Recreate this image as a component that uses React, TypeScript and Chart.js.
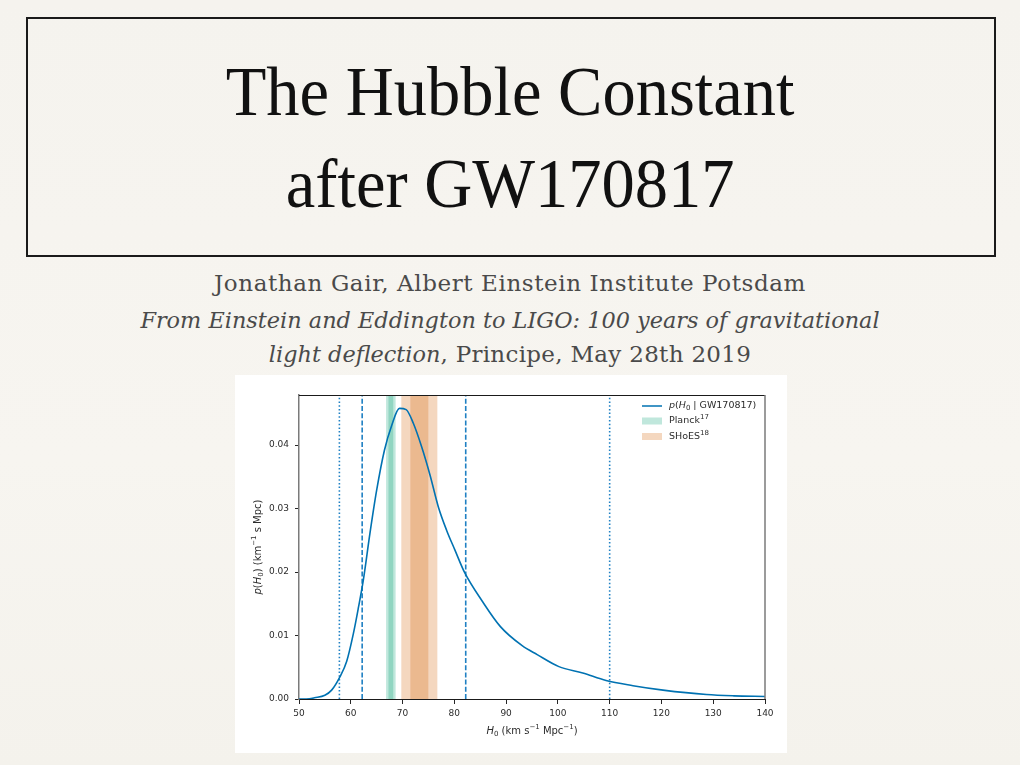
import React, { useEffect, useRef } from "react";
import { Chart, registerables } from "chart.js";

Chart.register(...registerables);

// ---- data ----
const h0Grid = [
  50, 52, 53, 55, 56.3, 57.9, 59.2, 60.5, 61.5, 62.4, 63.7, 65, 66.5, 67.9, 69.4, 70.7, 72.1, 73.7, 75.3,
  76.9, 78.5, 80.1, 82, 85.4, 88.9, 93.1, 96, 100.2, 104.8, 109.3, 114.5, 120.3, 128.7, 134, 140,
];
const posterior = [
  0, 0.00005, 0.0002, 0.0006, 0.0014, 0.0035, 0.0059, 0.0103, 0.0145, 0.0186, 0.0261, 0.0329, 0.0392, 0.0431,
  0.0458, 0.0456, 0.0434, 0.0397, 0.0353, 0.0303, 0.0266, 0.0235, 0.0199, 0.0154, 0.0114, 0.0084, 0.007,
  0.0051, 0.0041, 0.0029, 0.0021, 0.0014, 0.0007, 0.0005, 0.0004,
];
const xTickValues = [50, 60, 70, 80, 90, 100, 110, 120, 130, 140];
const yTickValues = [0, 0.01, 0.02, 0.03, 0.04];
const yAxisMax = 0.0479;
const interval90 = [57.8, 110.0]; // dotted lines
const interval68 = [62.2, 82.2]; // dashed lines
const planckBand = [67.74, 0.46]; // centre, sigma
const shoesBand = [73.24, 1.74]; // centre, sigma

const FAMILY = '"DejaVu Sans", sans-serif';
const LINE_BLUE = "#0072b2";
const VLINE_BLUE = "#1f80c3";
const TEXT_DARK = "#2b2b2b";

type Seg = { t: string; it?: boolean; sub?: boolean; sup?: boolean };

function drawRich(
  ctx: CanvasRenderingContext2D,
  segs: Seg[],
  x: number,
  y: number,
  size: number,
  align: "left" | "center"
) {
  const fontFor = (s: Seg) =>
    `${s.it ? "italic " : ""}${s.sub || s.sup ? Math.round(size * 0.72) : size}px ${FAMILY}`;
  let total = 0;
  for (const s of segs) {
    ctx.font = fontFor(s);
    total += ctx.measureText(s.t).width;
  }
  let cx = align === "center" ? x - total / 2 : x;
  ctx.textBaseline = "middle";
  ctx.textAlign = "left";
  for (const s of segs) {
    ctx.font = fontFor(s);
    const dy = s.sub ? size * 0.28 : s.sup ? -size * 0.38 : 0;
    ctx.fillText(s.t, cx, y + dy);
    cx += ctx.measureText(s.t).width;
  }
}

const bandsPlugin = {
  id: "bands",
  beforeDatasetsDraw(chart: any) {
    const { ctx, chartArea, scales } = chart;
    const xs = scales.x;
    const bands: [number[], string][] = [
      [planckBand, "rgba(2,158,115,0.25)"],
      [shoesBand, "rgba(213,94,0,0.25)"],
    ];
    ctx.save();
    for (const [band, color] of bands) {
      for (const k of [2, 1]) {
        const x1 = xs.getPixelForValue(band[0] - k * band[1]);
        const x2 = xs.getPixelForValue(band[0] + k * band[1]);
        ctx.fillStyle = color;
        ctx.fillRect(x1, chartArea.top, x2 - x1, chartArea.bottom - chartArea.top);
      }
    }
    ctx.restore();
  },
};

const framePlugin = {
  id: "frame",
  afterDraw(chart: any) {
    const { ctx, chartArea } = chart;
    const { left, right, top, bottom } = chartArea;
    ctx.save();
    ctx.strokeStyle = "#1a1a1a";
    ctx.lineWidth = 1;
    ctx.beginPath();
    ctx.moveTo(left, top + 0.5);
    ctx.lineTo(right, top + 0.5);
    ctx.stroke();
    ctx.strokeStyle = "#7a7a7a";
    ctx.lineWidth = 1.5;
    ctx.beginPath();
    ctx.moveTo(right, top);
    ctx.lineTo(right, bottom);
    ctx.stroke();

    // legend
    const sx = 407;
    const tx = 434;
    const rows = [31, 46, 61.5];
    ctx.strokeStyle = LINE_BLUE;
    ctx.lineWidth = 1.5;
    ctx.beginPath();
    ctx.moveTo(sx, rows[0]);
    ctx.lineTo(sx + 20, rows[0]);
    ctx.stroke();
    ctx.fillStyle = "rgba(2,158,115,0.25)";
    ctx.fillRect(sx, rows[1] - 3.5, 20, 7);
    ctx.fillStyle = "rgba(213,94,0,0.25)";
    ctx.fillRect(sx, rows[2] - 3.5, 20, 7);
    ctx.fillStyle = TEXT_DARK;
    drawRich(ctx, [{ t: "p", it: true }, { t: "(" }, { t: "H", it: true }, { t: "0", sub: true }, { t: " | GW170817)" }], tx, rows[0], 9.5, "left");
    drawRich(ctx, [{ t: "Planck" }, { t: "17", sup: true }], tx, rows[1], 9.5, "left");
    drawRich(ctx, [{ t: "SHoES" }, { t: "18", sup: true }], tx, rows[2], 9.5, "left");

    // axis titles
    const cx = (left + right) / 2;
    drawRich(
      ctx,
      [{ t: "H", it: true }, { t: "0", sub: true }, { t: " (km s" }, { t: "−1", sup: true }, { t: " Mpc" }, { t: "−1", sup: true }, { t: ")" }],
      cx,
      356,
      10,
      "center"
    );
    ctx.translate(23, (top + bottom) / 2);
    ctx.rotate(-Math.PI / 2);
    drawRich(
      ctx,
      [{ t: "p", it: true }, { t: "(" }, { t: "H", it: true }, { t: "0", sub: true }, { t: ") (km" }, { t: "−1", sup: true }, { t: " s Mpc)" }],
      0,
      0,
      10,
      "center"
    );
    ctx.restore();
  },
};

function vline(v: number, dash: number[]) {
  return {
    data: [
      { x: v, y: 0 },
      { x: v, y: yAxisMax },
    ],
    borderColor: VLINE_BLUE,
    borderWidth: 1.6,
    borderDash: dash,
    pointRadius: 0,
    fill: false,
  };
}

function HubbleChart() {
  const ref = useRef<HTMLCanvasElement | null>(null);
  useEffect(() => {
    if (!ref.current) return;
    const chart = new Chart(ref.current, {
      type: "line",
      data: {
        datasets: [
          {
            label: "p(H0 | GW170817)",
            data: h0Grid.map((x, i) => ({ x, y: posterior[i] })),
            borderColor: LINE_BLUE,
            borderWidth: 1.6,
            pointRadius: 0,
            cubicInterpolationMode: "monotone",
            fill: false,
          },
          vline(interval90[0], [1.5, 2.2]),
          vline(interval90[1], [1.5, 2.2]),
          vline(interval68[0], [5, 2.2]),
          vline(interval68[1], [5, 2.2]),
        ],
      },
      options: {
        animation: false,
        responsive: false,
        layout: { padding: { left: 0, right: 22, top: 20, bottom: 0 } },
        plugins: { legend: { display: false }, tooltip: { enabled: false } },
        scales: {
          x: {
            type: "linear",
            min: 50,
            max: 140,
            afterFit: (s: any) => {
              s.height = 54;
            },
            afterBuildTicks: (s: any) => {
              s.ticks = xTickValues.map((v) => ({ value: v }));
            },
            ticks: { font: { family: FAMILY, size: 9 }, color: TEXT_DARK, padding: 4, maxRotation: 0 },
            grid: { drawOnChartArea: false, tickLength: 5, color: "#262626" },
            border: { color: "#1a1a1a", width: 1 },
          },
          y: {
            type: "linear",
            min: 0,
            max: yAxisMax,
            afterFit: (s: any) => {
              s.width = 64;
            },
            afterBuildTicks: (s: any) => {
              s.ticks = yTickValues.map((v) => ({ value: v }));
            },
            ticks: {
              font: { family: FAMILY, size: 9 },
              color: TEXT_DARK,
              padding: 6,
              callback: (v: any) => Number(v).toFixed(2),
            },
            grid: { drawOnChartArea: false, tickLength: 4, color: "#262626" },
            border: { color: "#7a7a7a", width: 1.5 },
          },
        },
      },
      plugins: [bandsPlugin, framePlugin],
    } as any);
    return () => chart.destroy();
  }, []);
  return <canvas ref={ref} width={552} height={378} style={{ display: "block" }} />;
}

export default function App() {
  const serif = '"Liberation Serif", "Times New Roman", serif';
  const sub: React.CSSProperties = {
    position: "absolute",
    left: 0,
    width: 1020,
    textAlign: "center",
    fontFamily: '"DejaVu Serif", serif',
    fontSize: 23,
    letterSpacing: "0.3px",
    lineHeight: "30px",
    color: "#4a4a4a",
    whiteSpace: "nowrap",
  };
  const ital: React.CSSProperties = { fontSize: 22.4, letterSpacing: 0 };
  const titleLine: React.CSSProperties = {
    position: "absolute",
    left: 0,
    width: 1020,
    textAlign: "center",
    fontFamily: serif,
    fontSize: 70,
    lineHeight: "92px",
    color: "#111",
    whiteSpace: "nowrap",
    transform: "scaleX(0.95)",
    transformOrigin: "513px 0",
  };
  return (
    <div
      style={{
        position: "fixed",
        left: 0,
        top: 0,
        width: 1020,
        height: 765,
        background: "linear-gradient(180deg, #f5f3ee 0%, #f7f5f0 60%, #f4f2ec 100%)",
        overflow: "hidden",
      }}
    >
      <div
        style={{
          position: "absolute",
          left: 26,
          top: 17,
          width: 966,
          height: 236,
          border: "2px solid #1a1a1a",
        }}
      />
      <div style={{ ...titleLine, top: 46 }}>The Hubble Constant</div>
      <div style={{ ...titleLine, top: 138 }}>after GW170817</div>
      <div style={{ ...sub, top: 268, letterSpacing: "0.6px" }}>Jonathan Gair, Albert Einstein Institute Potsdam</div>
      <div style={{ ...sub, top: 305 }}>
        <i style={ital}>From Einstein and Eddington to LIGO: 100 years of gravitational</i>
      </div>
      <div style={{ ...sub, top: 339 }}>
        <i style={ital}>light deflection</i>, Principe, May 28th 2019
      </div>
      <div style={{ position: "absolute", left: 235, top: 375, width: 552, height: 378, background: "#ffffff" }}>
        <HubbleChart />
      </div>
    </div>
  );
}
